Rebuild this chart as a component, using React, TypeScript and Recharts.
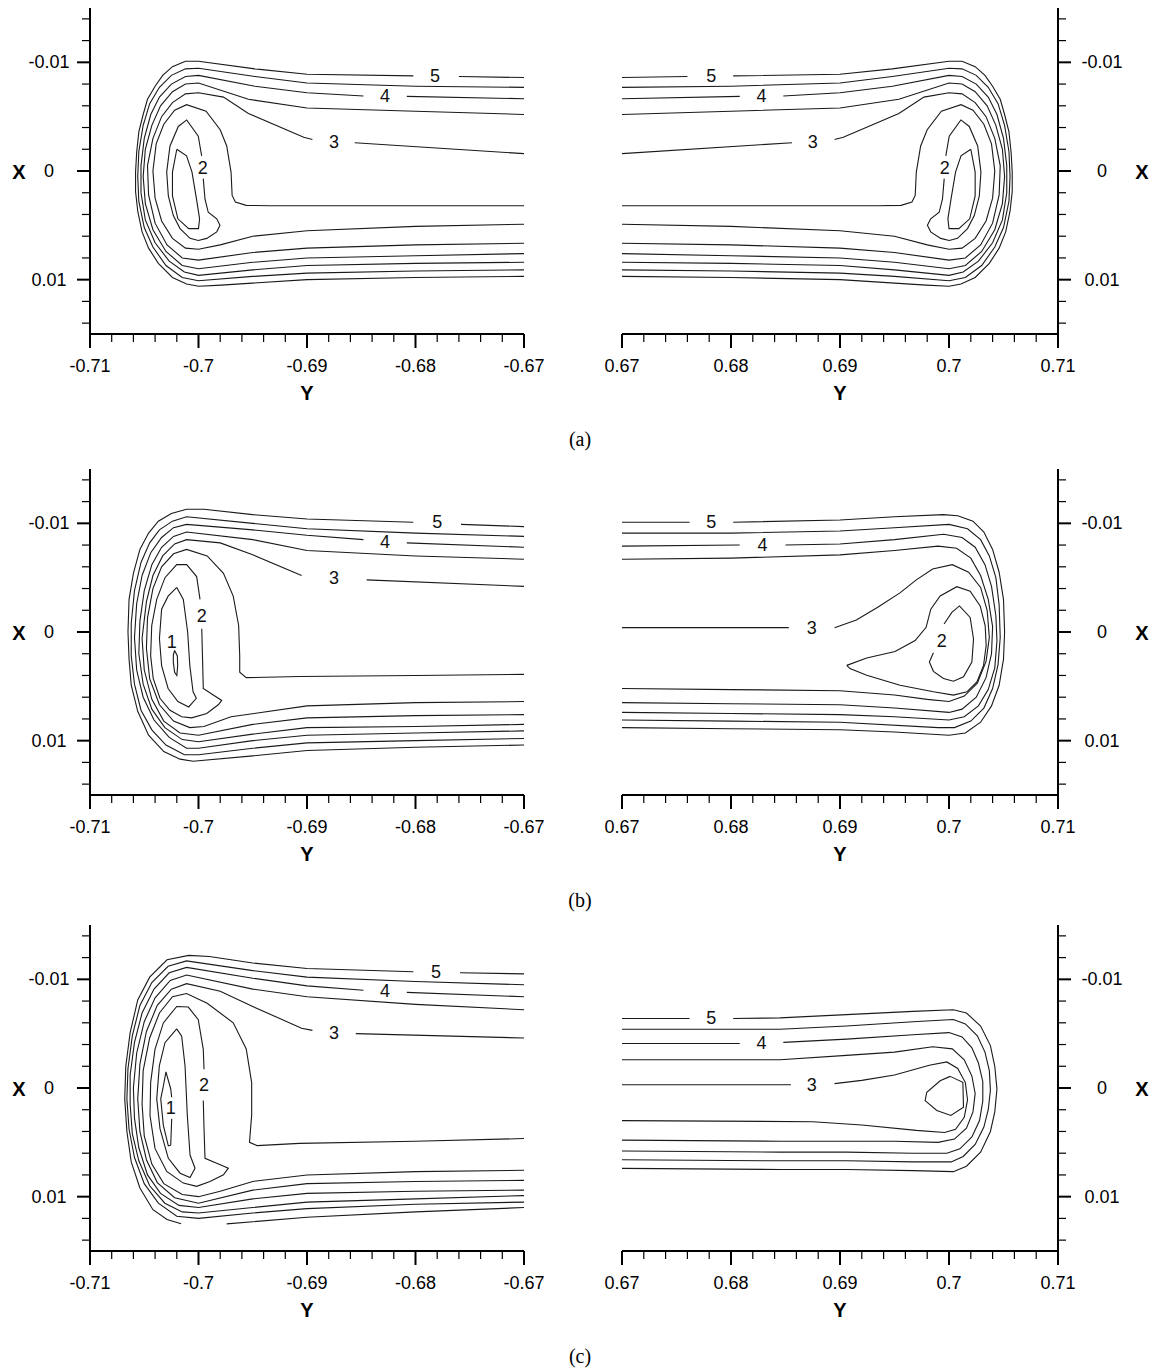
import React from 'react';
import { ScatterChart, Scatter, XAxis, YAxis } from 'recharts';

// each point is [Y, X]: Y runs along the bottom axis, X down the side axis
type Pt = [number, number];
type Lbl = { t: string; h: number; v: number };

// labelled ticks are the ones at whole hundredths, the rest are the 0.002 minor marks
const leftTicks = [-0.71, -0.708, -0.706, -0.704, -0.702, -0.7, -0.698, -0.696, -0.694, -0.692, -0.69, -0.688, -0.686, -0.684, -0.682, -0.68, -0.678, -0.676, -0.674, -0.672, -0.67];
const rightTicks = [0.67, 0.672, 0.674, 0.676, 0.678, 0.68, 0.682, 0.684, 0.686, 0.688, 0.69, 0.692, 0.694, 0.696, 0.698, 0.7, 0.702, 0.704, 0.706, 0.708, 0.71];
const xTicks = [-0.014, -0.012, -0.01, -0.008, -0.006, -0.004, -0.002, 0, 0.002, 0.004, 0.006, 0.008, 0.01, 0.012, 0.014];

// ---------- (a) ----------
const linesAL: Pt[][] = [
  [[-0.67, -0.0086], [-0.676, -0.00869]],
  [[-0.6802, -0.00875], [-0.69, -0.0089], [-0.6948, -0.0094], [-0.7, -0.0101], [-0.7012, -0.0101], [-0.7024, -0.0096], [-0.7033, -0.0088], [-0.704, -0.0078], [-0.7047, -0.0066], [-0.7051, -0.0052], [-0.7055, -0.0036], [-0.7057, -0.0017], [-0.7058, 0.0001], [-0.7058, 0.0019], [-0.7056, 0.0037], [-0.7052, 0.0056], [-0.7046, 0.0071], [-0.7037, 0.0085], [-0.7024, 0.0098], [-0.7011, 0.0104], [-0.7, 0.0106], [-0.6979, 0.0105], [-0.69, 0.01], [-0.68, 0.0098], [-0.67, 0.0097]],
  [[-0.67, -0.0077], [-0.68, -0.0078], [-0.69, -0.0081], [-0.6948, -0.0087], [-0.7, -0.00945], [-0.7012, -0.0094], [-0.7025, -0.0088], [-0.7036, -0.0077], [-0.7045, -0.0062], [-0.7051, -0.0042], [-0.7055, -0.0018], [-0.7056, 0.0005], [-0.7055, 0.0028], [-0.705, 0.0052], [-0.7042, 0.007], [-0.703, 0.0087], [-0.7015, 0.0098], [-0.7, 0.0101], [-0.695, 0.0097], [-0.69, 0.0094], [-0.68, 0.0092], [-0.67, 0.0091]],
  [[-0.67, -0.00665], [-0.6808, -0.00687]],
  [[-0.6848, -0.0069], [-0.69, -0.0072], [-0.6948, -0.0078], [-0.7, -0.0088], [-0.7012, -0.0087], [-0.7025, -0.008], [-0.7036, -0.0068], [-0.7044, -0.0052], [-0.705, -0.003], [-0.7053, -0.0005], [-0.7053, 0.002], [-0.7049, 0.0045], [-0.704, 0.0066], [-0.7027, 0.0083], [-0.7013, 0.0093], [-0.7, 0.0096], [-0.695, 0.0091], [-0.69, 0.0087], [-0.68, 0.0085], [-0.67, 0.0084]],
  [[-0.67, -0.0052], [-0.68, -0.0055], [-0.69, -0.0058], [-0.6954, -0.0066], [-0.7, -0.0081], [-0.7012, -0.008], [-0.7024, -0.0073], [-0.7035, -0.006], [-0.7043, -0.0042], [-0.7049, -0.002], [-0.7051, 0.0005], [-0.7049, 0.003], [-0.7042, 0.0054], [-0.703, 0.0074], [-0.7015, 0.0087], [-0.7, 0.009], [-0.695, 0.0084], [-0.69, 0.008], [-0.68, 0.0078], [-0.67, 0.0076]],
  [[-0.67, -0.0016], [-0.6856, -0.0026]],
  [[-0.6895, -0.0029], [-0.6903, -0.0031], [-0.6954, -0.0053], [-0.6977, -0.0068], [-0.7, -0.0072], [-0.7012, -0.0071], [-0.7024, -0.0063], [-0.7034, -0.005], [-0.7042, -0.003], [-0.7047, -0.0005], [-0.7046, 0.0022], [-0.704, 0.0048], [-0.7029, 0.0068], [-0.7015, 0.008], [-0.7, 0.0082], [-0.695, 0.0075], [-0.69, 0.0071], [-0.68, 0.0068], [-0.67, 0.00665]],
  [[-0.67, 0.0032], [-0.6934, 0.0032], [-0.6956, 0.00316], [-0.6966, 0.00285], [-0.6969, 0.00225], [-0.697, 0.0001], [-0.6974, -0.0023], [-0.698, -0.0038], [-0.6993, -0.0055], [-0.7011, -0.0061], [-0.7022, -0.0056], [-0.7032, -0.0043], [-0.7039, -0.0025], [-0.7042, 0], [-0.704, 0.0025], [-0.7034, 0.0046], [-0.7024, 0.0062], [-0.7012, 0.0071], [-0.7, 0.0072], [-0.698, 0.0068], [-0.695, 0.006], [-0.69, 0.0055], [-0.68, 0.0051], [-0.67, 0.0049]],
  [[-0.69971, -0.0014], [-0.70002, -0.0032], [-0.70109, -0.0047], [-0.70186, -0.0041], [-0.70263, -0.0023], [-0.70293, 0.0001], [-0.70278, 0.0023], [-0.70232, 0.0041], [-0.7017, 0.0053], [-0.70078, 0.0062], [-0.70002, 0.0064], [-0.69924, 0.0062], [-0.69832, 0.0056], [-0.69802, 0.005], [-0.69832, 0.0044], [-0.6991, 0.0038], [-0.6994, 0.0026], [-0.69956, 0.0007]],
  [[-0.702, -0.002], [-0.7011, -0.0014], [-0.7006, 0.0001], [-0.7002, 0.0025], [-0.6999, 0.0044], [-0.7, 0.0053], [-0.7009, 0.0053], [-0.7019, 0.0044], [-0.7024, 0.0023], [-0.7024, 0.0001], [-0.702, -0.002]],
];
const labelsAL: Lbl[] = [
  { t: '5', h: -0.6782, v: -0.00875 },
  { t: '4', h: -0.6828, v: -0.00687 },
  { t: '3', h: -0.6875, v: -0.0027 },
  { t: '2', h: -0.6996, v: -0.0003 },
];

const linesAR: Pt[][] = [
  [[0.67, -0.0086], [0.676, -0.00869]],
  [[0.6802, -0.00875], [0.69, -0.0089], [0.6948, -0.0094], [0.7, -0.0101], [0.7012, -0.0101], [0.7024, -0.0096], [0.7033, -0.0088], [0.704, -0.0078], [0.7047, -0.0066], [0.7051, -0.0052], [0.7055, -0.0036], [0.7057, -0.0017], [0.7058, 0.0001], [0.7058, 0.0019], [0.7056, 0.0037], [0.7052, 0.0056], [0.7046, 0.0071], [0.7037, 0.0085], [0.7024, 0.0098], [0.7011, 0.0104], [0.7, 0.0106], [0.6979, 0.0105], [0.69, 0.01], [0.68, 0.0098], [0.67, 0.0097]],
  [[0.67, -0.0077], [0.68, -0.0078], [0.69, -0.0081], [0.6948, -0.0087], [0.7, -0.00945], [0.7012, -0.0094], [0.7025, -0.0088], [0.7036, -0.0077], [0.7045, -0.0062], [0.7051, -0.0042], [0.7055, -0.0018], [0.7056, 0.0005], [0.7055, 0.0028], [0.705, 0.0052], [0.7042, 0.007], [0.703, 0.0087], [0.7015, 0.0098], [0.7, 0.0101], [0.695, 0.0097], [0.69, 0.0094], [0.68, 0.0092], [0.67, 0.0091]],
  [[0.67, -0.00665], [0.6808, -0.00687]],
  [[0.6848, -0.0069], [0.69, -0.0072], [0.6948, -0.0078], [0.7, -0.0088], [0.7012, -0.0087], [0.7025, -0.008], [0.7036, -0.0068], [0.7044, -0.0052], [0.705, -0.003], [0.7053, -0.0005], [0.7053, 0.002], [0.7049, 0.0045], [0.704, 0.0066], [0.7027, 0.0083], [0.7013, 0.0093], [0.7, 0.0096], [0.695, 0.0091], [0.69, 0.0087], [0.68, 0.0085], [0.67, 0.0084]],
  [[0.67, -0.0052], [0.68, -0.0055], [0.69, -0.0058], [0.6954, -0.0066], [0.7, -0.0081], [0.7012, -0.008], [0.7024, -0.0073], [0.7035, -0.006], [0.7043, -0.0042], [0.7049, -0.002], [0.7051, 0.0005], [0.7049, 0.003], [0.7042, 0.0054], [0.703, 0.0074], [0.7015, 0.0087], [0.7, 0.009], [0.695, 0.0084], [0.69, 0.008], [0.68, 0.0078], [0.67, 0.0076]],
  [[0.67, -0.0016], [0.6856, -0.0026]],
  [[0.6895, -0.0029], [0.6903, -0.0031], [0.6954, -0.0053], [0.6977, -0.0068], [0.7, -0.0072], [0.7012, -0.0071], [0.7024, -0.0063], [0.7034, -0.005], [0.7042, -0.003], [0.7047, -0.0005], [0.7046, 0.0022], [0.704, 0.0048], [0.7029, 0.0068], [0.7015, 0.008], [0.7, 0.0082], [0.695, 0.0075], [0.69, 0.0071], [0.68, 0.0068], [0.67, 0.00665]],
  [[0.67, 0.0032], [0.6934, 0.0032], [0.6956, 0.00316], [0.6966, 0.00285], [0.6969, 0.00225], [0.697, 0.0001], [0.6974, -0.0023], [0.698, -0.0038], [0.6993, -0.0055], [0.7011, -0.0061], [0.7022, -0.0056], [0.7032, -0.0043], [0.7039, -0.0025], [0.7042, 0], [0.704, 0.0025], [0.7034, 0.0046], [0.7024, 0.0062], [0.7012, 0.0071], [0.7, 0.0072], [0.698, 0.0068], [0.695, 0.006], [0.69, 0.0055], [0.68, 0.0051], [0.67, 0.0049]],
  [[0.69971, -0.0014], [0.70002, -0.0032], [0.70109, -0.0047], [0.70186, -0.0041], [0.70263, -0.0023], [0.70293, 0.0001], [0.70278, 0.0023], [0.70232, 0.0041], [0.7017, 0.0053], [0.70078, 0.0062], [0.70002, 0.0064], [0.69924, 0.0062], [0.69832, 0.0056], [0.69802, 0.005], [0.69832, 0.0044], [0.6991, 0.0038], [0.6994, 0.0026], [0.69956, 0.0007]],
  [[0.702, -0.002], [0.7011, -0.0014], [0.7006, 0.0001], [0.7002, 0.0025], [0.6999, 0.0044], [0.7, 0.0053], [0.7009, 0.0053], [0.7019, 0.0044], [0.7024, 0.0023], [0.7024, 0.0001], [0.702, -0.002]],
];
const labelsAR: Lbl[] = [
  { t: '5', h: 0.6782, v: -0.00875 },
  { t: '4', h: 0.6828, v: -0.00687 },
  { t: '3', h: 0.6875, v: -0.0027 },
  { t: '2', h: 0.6996, v: -0.0003 },
];

// ---------- (b) ----------
const linesBL: Pt[][] = [
  [[-0.67, -0.0097], [-0.6758, -0.0099]],
  [[-0.6802, -0.0101], [-0.69, -0.0104], [-0.695, -0.0108], [-0.6995, -0.0113], [-0.7011, -0.0113], [-0.7025, -0.0109], [-0.7037, -0.0102], [-0.7046, -0.0091], [-0.7054, -0.0076], [-0.706, -0.0054], [-0.7064, -0.003], [-0.7065, 0], [-0.7064, 0.0025], [-0.7062, 0.0049], [-0.7056, 0.0073], [-0.7046, 0.0095], [-0.7032, 0.011], [-0.7017, 0.0117], [-0.7005, 0.0119], [-0.695, 0.0114], [-0.69, 0.0109], [-0.68, 0.0106], [-0.67, 0.0104]],
  [[-0.67, -0.0088], [-0.68, -0.0091], [-0.69, -0.0095], [-0.695, -0.01], [-0.7011, -0.0106], [-0.7024, -0.0102], [-0.7036, -0.0094], [-0.7045, -0.0082], [-0.7053, -0.0064], [-0.7059, -0.0038], [-0.7062, -0.0008], [-0.7062, 0.0022], [-0.7059, 0.0048], [-0.7053, 0.0072], [-0.7043, 0.009], [-0.703, 0.0104], [-0.7013, 0.0113], [-0.7, 0.0113], [-0.695, 0.0107], [-0.69, 0.0102], [-0.68, 0.01], [-0.67, 0.0098]],
  [[-0.67, -0.0078], [-0.6808, -0.0082]],
  [[-0.6848, -0.0085], [-0.69, -0.0089], [-0.695, -0.0094], [-0.7011, -0.0099], [-0.7023, -0.0096], [-0.7034, -0.0087], [-0.7044, -0.0073], [-0.7052, -0.0052], [-0.7057, -0.0026], [-0.7059, 0.0005], [-0.7057, 0.0035], [-0.7051, 0.006], [-0.7041, 0.0081], [-0.7027, 0.0097], [-0.7011, 0.0107], [-0.7, 0.0107], [-0.695, 0.01], [-0.69, 0.0095], [-0.68, 0.0093], [-0.67, 0.0091]],
  [[-0.67, -0.0067], [-0.68, -0.007], [-0.69, -0.0075], [-0.695, -0.0085], [-0.7011, -0.0092], [-0.7023, -0.0088], [-0.7034, -0.0078], [-0.7043, -0.0062], [-0.705, -0.0038], [-0.7054, -0.001], [-0.7055, 0.002], [-0.7051, 0.0048], [-0.7043, 0.0071], [-0.7031, 0.0088], [-0.7015, 0.0099], [-0.7, 0.0101], [-0.695, 0.0094], [-0.69, 0.0088], [-0.68, 0.0087], [-0.67, 0.0085]],
  [[-0.67, -0.0042], [-0.6845, -0.0048]],
  [[-0.6905, -0.0052], [-0.695, -0.0071], [-0.698, -0.0082], [-0.7011, -0.0085], [-0.7022, -0.0081], [-0.7033, -0.007], [-0.7042, -0.0052], [-0.7048, -0.0028], [-0.7052, 0.0006], [-0.705, 0.0035], [-0.7043, 0.0062], [-0.7032, 0.0082], [-0.7017, 0.0093], [-0.7, 0.0095], [-0.695, 0.0085], [-0.69, 0.0079], [-0.68, 0.0077], [-0.67, 0.0076]],
  [[-0.67, 0.0039], [-0.68, 0.004], [-0.6907, 0.0041], [-0.6956, 0.0042], [-0.6962, 0.0037], [-0.6962, 0.0022], [-0.6963, -0.0006], [-0.6968, -0.0033], [-0.6977, -0.0054], [-0.6992, -0.007], [-0.7011, -0.0076], [-0.7023, -0.0072], [-0.7034, -0.006], [-0.7042, -0.004], [-0.7047, -0.0013], [-0.7048, 0.0015], [-0.7045, 0.0043], [-0.7036, 0.0067], [-0.7023, 0.0082], [-0.7008, 0.0088], [-0.6995, 0.0087], [-0.697, 0.0078], [-0.69, 0.0068], [-0.68, 0.0065], [-0.67, 0.0064]],
  [[-0.6997, -0.0003], [-0.69961, 0.0031], [-0.69956, 0.0052], [-0.69864, 0.0058], [-0.69786, 0.0063], [-0.69818, 0.0067], [-0.69924, 0.0075], [-0.70063, 0.0079], [-0.70155, 0.0078], [-0.70263, 0.0072], [-0.70355, 0.0061], [-0.70417, 0.0043], [-0.70441, 0.0022], [-0.70431, -0.0006], [-0.70385, -0.003], [-0.70309, -0.005], [-0.70201, -0.0062], [-0.70109, -0.0062], [-0.70017, -0.0051], [-0.69986, -0.003]],
  [[-0.702, -0.0041], [-0.7014, -0.003], [-0.701, 0], [-0.7008, 0.0031], [-0.7005, 0.0055], [-0.7002, 0.0061], [-0.7009, 0.0069], [-0.7019, 0.0064], [-0.7028, 0.0052], [-0.7034, 0.0031], [-0.7036, 0.0006], [-0.7034, -0.0021], [-0.7028, -0.0033], [-0.702, -0.0041]],
  [[-0.7022, 0.0017], [-0.70195, 0.0022], [-0.70192, 0.0031], [-0.702, 0.004], [-0.7022, 0.0037], [-0.70232, 0.0028], [-0.70232, 0.0021], [-0.7022, 0.0017]],
];
const labelsBL: Lbl[] = [
  { t: '5', h: -0.678, v: -0.0101 },
  { t: '4', h: -0.6828, v: -0.0083 },
  { t: '3', h: -0.6875, v: -0.005 },
  { t: '2', h: -0.6997, v: -0.0015 },
  { t: '1', h: -0.70247, v: 0.0009 },
];

const linesBR: Pt[][] = [
  [[0.67, -0.0101], [0.6762, -0.0101]],
  [[0.6802, -0.0101], [0.69, -0.0103], [0.695, -0.0106], [0.6995, -0.0108], [0.7008, -0.0107], [0.7022, -0.0102], [0.7032, -0.0092], [0.704, -0.0076], [0.7046, -0.0055], [0.705, -0.003], [0.7051, 0], [0.705, 0.0025], [0.7046, 0.0049], [0.7039, 0.0068], [0.7029, 0.0083], [0.7015, 0.0093], [0.7, 0.0095], [0.695, 0.0092], [0.69, 0.009], [0.68, 0.0089], [0.67, 0.0088]],
  [[0.67, -0.0091], [0.68, -0.0091], [0.69, -0.0093], [0.695, -0.0096], [0.7, -0.0099], [0.7017, -0.0095], [0.7029, -0.0085], [0.7037, -0.007], [0.7043, -0.005], [0.7046, -0.0025], [0.7047, 0.0005], [0.7045, 0.003], [0.704, 0.0052], [0.7032, 0.007], [0.702, 0.0082], [0.7005, 0.0088], [0.699, 0.0088], [0.69, 0.0083], [0.68, 0.0082], [0.67, 0.0081]],
  [[0.67, -0.0079], [0.6808, -0.008]],
  [[0.685, -0.008], [0.69, -0.0081], [0.695, -0.0085], [0.6995, -0.009], [0.7012, -0.0087], [0.7024, -0.0078], [0.7033, -0.0062], [0.7039, -0.0042], [0.7043, -0.0015], [0.7044, 0.0008], [0.7042, 0.0033], [0.7036, 0.0053], [0.7027, 0.0068], [0.7014, 0.0078], [0.7, 0.0081], [0.695, 0.0078], [0.69, 0.0076], [0.68, 0.0075], [0.67, 0.0074]],
  [[0.67, -0.0067], [0.68, -0.0068], [0.69, -0.0071], [0.695, -0.0075], [0.699, -0.0079], [0.7007, -0.0077], [0.702, -0.0068], [0.7029, -0.0052], [0.7036, -0.003], [0.704, -0.0005], [0.7039, 0.002], [0.7034, 0.0042], [0.7025, 0.006], [0.7012, 0.0071], [0.7, 0.0074], [0.695, 0.007], [0.69, 0.0067], [0.68, 0.0066], [0.67, 0.0065]],
  [[0.67, -0.0004], [0.6853, -0.0004]],
  [[0.6895, -0.0004], [0.6915, -0.0011], [0.6935, -0.0023], [0.6955, -0.0036], [0.697, -0.0048], [0.6985, -0.0058], [0.7003, -0.0062], [0.7018, -0.0055], [0.7029, -0.0041], [0.7035, -0.002], [0.7037, 0.0005], [0.7034, 0.0027], [0.7026, 0.0047], [0.7014, 0.0059], [0.7, 0.0064], [0.698, 0.0062], [0.695, 0.0058], [0.69, 0.0054], [0.68, 0.0053], [0.67, 0.0052]],
  [[0.69062, 0.00307], [0.69245, 0.0024], [0.69505, 0.0018], [0.69689, 0.00079], [0.6979, -0.00043], [0.69833, -0.0021], [0.69919, -0.00331], [0.70072, -0.00417], [0.70194, -0.00376], [0.70286, -0.0024], [0.70332, -0.00057], [0.70341, 0.00125], [0.70317, 0.00307], [0.70256, 0.00459], [0.70164, 0.0055], [0.70041, 0.00581], [0.69857, 0.0055], [0.69551, 0.0049], [0.69245, 0.00398], [0.69092, 0.00337], [0.69062, 0.00307]],
  [[0.69955, -0.00073], [0.70026, -0.0018], [0.70096, -0.0024], [0.70194, -0.00134], [0.70225, 0.00064], [0.7021, 0.00276], [0.70133, 0.00413], [0.70041, 0.00453], [0.69949, 0.00428], [0.69857, 0.00362], [0.6982, 0.00276], [0.69857, 0.00191]],
];
const labelsBR: Lbl[] = [
  { t: '5', h: 0.6782, v: -0.0101 },
  { t: '4', h: 0.6829, v: -0.008 },
  { t: '3', h: 0.6874, v: -0.0004 },
  { t: '2', h: 0.69934, v: 0.0008 },
];

// ---------- (c) ----------
const linesCL: Pt[][] = [
  [[-0.67, -0.0105], [-0.6759, -0.0106]],
  [[-0.6802, -0.0107], [-0.69, -0.011], [-0.695, -0.0115], [-0.699, -0.0121], [-0.7009, -0.0122], [-0.7029, -0.0118], [-0.7045, -0.0102], [-0.7056, -0.0081], [-0.7063, -0.0051], [-0.7067, -0.002], [-0.7068, 0.001], [-0.7066, 0.004], [-0.7062, 0.0068], [-0.7054, 0.0092], [-0.7042, 0.0112], [-0.7029, 0.0121], [-0.7016, 0.0125]],
  [[-0.6974, 0.0125], [-0.69, 0.0119], [-0.68, 0.0114], [-0.67, 0.011]],
  [[-0.67, -0.0095], [-0.68, -0.0098], [-0.69, -0.0102], [-0.695, -0.0108], [-0.7011, -0.0117], [-0.7028, -0.0112], [-0.7043, -0.0097], [-0.7054, -0.0076], [-0.7061, -0.0048], [-0.7065, -0.0018], [-0.7066, 0.001], [-0.7064, 0.0038], [-0.7059, 0.0064], [-0.705, 0.0088], [-0.7037, 0.0106], [-0.702, 0.0118], [-0.7, 0.012], [-0.695, 0.0115], [-0.69, 0.0111], [-0.68, 0.0107], [-0.67, 0.0105]],
  [[-0.67, -0.0084], [-0.6808, -0.0088]],
  [[-0.6848, -0.009], [-0.69, -0.0094], [-0.695, -0.0101], [-0.7011, -0.0111], [-0.7027, -0.0106], [-0.7041, -0.0091], [-0.7052, -0.0069], [-0.7059, -0.0042], [-0.7063, -0.0012], [-0.7063, 0.0015], [-0.7061, 0.0042], [-0.7055, 0.0067], [-0.7045, 0.009], [-0.7031, 0.0106], [-0.7015, 0.0114], [-0.7, 0.0115], [-0.695, 0.011], [-0.69, 0.0105], [-0.68, 0.0102], [-0.67, 0.0099]],
  [[-0.67, -0.0072], [-0.68, -0.0077], [-0.69, -0.0084], [-0.695, -0.0091], [-0.7011, -0.0104], [-0.7026, -0.0099], [-0.704, -0.0083], [-0.705, -0.0061], [-0.7057, -0.0032], [-0.706, 0], [-0.7059, 0.0028], [-0.7055, 0.0055], [-0.7047, 0.008], [-0.7035, 0.0097], [-0.7018, 0.0108], [-0.7, 0.011], [-0.695, 0.0102], [-0.69, 0.0097], [-0.68, 0.0095], [-0.67, 0.0094]],
  [[-0.67, -0.0046], [-0.6855, -0.005]],
  [[-0.6895, -0.0053], [-0.6905, -0.0055], [-0.695, -0.0075], [-0.698, -0.0089], [-0.7011, -0.0096], [-0.7025, -0.0091], [-0.7038, -0.0076], [-0.7048, -0.0052], [-0.7054, -0.0022], [-0.7056, 0.001], [-0.7054, 0.004], [-0.7048, 0.0066], [-0.7038, 0.0087], [-0.7022, 0.0101], [-0.7, 0.0106], [-0.695, 0.0094], [-0.69, 0.0088], [-0.68, 0.0086], [-0.67, 0.0085]],
  [[-0.67, 0.00465], [-0.68, 0.0049], [-0.6907, 0.0051], [-0.6946, 0.0053], [-0.6953, 0.005], [-0.6951, 0.0025], [-0.6951, -0.0005], [-0.6956, -0.0036], [-0.6968, -0.006], [-0.6992, -0.0078], [-0.7011, -0.0087], [-0.7024, -0.0084], [-0.7036, -0.0069], [-0.7045, -0.0046], [-0.7051, -0.0016], [-0.7052, 0.0015], [-0.705, 0.0044], [-0.7043, 0.007], [-0.7032, 0.0088], [-0.7015, 0.0098], [-0.7, 0.01], [-0.698, 0.0095], [-0.695, 0.0086], [-0.69, 0.008], [-0.68, 0.0077], [-0.67, 0.00757]],
  [[-0.69956, 0.00116], [-0.69949, 0.00374], [-0.6994, 0.00647], [-0.69832, 0.00693], [-0.69725, 0.00738], [-0.6977, 0.00799], [-0.69894, 0.0086], [-0.70017, 0.00905], [-0.7014, 0.00875], [-0.70293, 0.00768], [-0.70401, 0.00556], [-0.70447, 0.00253], [-0.70441, -0.00052], [-0.70401, -0.00356], [-0.70324, -0.00599], [-0.70201, -0.0075], [-0.70094, -0.00745], [-0.70002, -0.00629], [-0.69956, -0.00356], [-0.69949, -0.00173]],
  [[-0.70201, -0.00544], [-0.70155, -0.00477], [-0.70124, -0.00203], [-0.70103, 0.00253], [-0.70078, 0.00617], [-0.70032, 0.00738], [-0.70078, 0.00823], [-0.7017, 0.00784], [-0.70278, 0.00647], [-0.70355, 0.00374], [-0.70385, 0.001], [-0.70361, -0.00203], [-0.70309, -0.00417], [-0.70201, -0.00544]],
  [[-0.70247, 0.00283], [-0.70256, 0.00526], [-0.70278, 0.00532], [-0.70324, 0.00344], [-0.70348, 0.001], [-0.70329, 0.00009], [-0.703, -0.00149], [-0.70256, 0.00009], [-0.70247, 0.00085]],
];
const labelsCL: Lbl[] = [
  { t: '5', h: -0.6781, v: -0.0107 },
  { t: '4', h: -0.6828, v: -0.0089 },
  { t: '3', h: -0.6875, v: -0.0051 },
  { t: '2', h: -0.6995, v: -0.0003 },
  { t: '1', h: -0.70256, v: 0.00185 },
];

const linesCR: Pt[][] = [
  [[0.67, -0.0064], [0.6762, -0.0064]],
  [[0.6802, -0.0064], [0.6845, -0.00645], [0.6906, -0.00675], [0.6967, -0.00705], [0.7004, -0.0072], [0.7016, -0.0069], [0.7029, -0.0057], [0.7038, -0.0039], [0.7042, -0.002], [0.7044, 0.0001], [0.7042, 0.0022], [0.7038, 0.004], [0.7029, 0.0059], [0.7016, 0.0072], [0.7004, 0.0077], [0.6967, 0.0076], [0.6906, 0.0075], [0.6845, 0.0075], [0.67, 0.0074]],
  [[0.67, -0.0054], [0.6845, -0.0054], [0.6906, -0.0057], [0.6967, -0.0061], [0.7004, -0.0063], [0.7015, -0.0059], [0.7026, -0.0048], [0.7033, -0.0033], [0.7037, -0.0016], [0.7038, 0.0002], [0.7036, 0.002], [0.7032, 0.0036], [0.7024, 0.0052], [0.7013, 0.0063], [0.7002, 0.0068], [0.6967, 0.0068], [0.6906, 0.0067], [0.6845, 0.0067], [0.67, 0.0066]],
  [[0.67, -0.0041], [0.6808, -0.0041]],
  [[0.6848, -0.0042], [0.6906, -0.0045], [0.6967, -0.0049], [0.7, -0.0051], [0.7012, -0.0047], [0.7021, -0.0037], [0.7027, -0.0023], [0.7031, -0.0006], [0.7031, 0.0012], [0.7028, 0.003], [0.7021, 0.0045], [0.701, 0.0056], [0.6998, 0.006], [0.6967, 0.006], [0.6906, 0.0059], [0.6845, 0.0059], [0.67, 0.0058]],
  [[0.67, -0.0026], [0.6845, -0.0026], [0.6906, -0.003], [0.695, -0.0033], [0.6985, -0.0038], [0.7003, -0.0036], [0.7014, -0.0026], [0.7021, -0.0011], [0.7024, 0.0005], [0.7022, 0.0022], [0.7016, 0.0037], [0.7005, 0.0047], [0.699, 0.005], [0.695, 0.0049], [0.6906, 0.0049], [0.6845, 0.0049], [0.67, 0.0048]],
  [[0.67, -0.0003], [0.6855, -0.0003]],
  [[0.6895, -0.0004], [0.692, -0.0007], [0.695, -0.0012], [0.6982, -0.0021], [0.6998, -0.0024], [0.7008, -0.0018], [0.7015, -0.0005], [0.7017, 0.0011], [0.7014, 0.0027], [0.7006, 0.0038], [0.6996, 0.0041], [0.697, 0.0039], [0.692, 0.0034], [0.6875, 0.0031], [0.67, 0.003]],
  [[0.70011, -0.00107], [0.70127, -0.00052], [0.70133, 0.00176], [0.70017, 0.00253], [0.69888, 0.00207], [0.69781, 0.00116], [0.69796, 0.00039], [0.69919, -0.00067], [0.70011, -0.00107]],
];
const labelsCR: Lbl[] = [
  { t: '5', h: 0.6782, v: -0.0064 },
  { t: '4', h: 0.6828, v: -0.0041 },
  { t: '3', h: 0.6874, v: -0.0003 },
];

const sans = '"Liberation Sans", Arial, sans-serif';
const isMajor = (v: number) => Math.abs(v * 100 - Math.round(v * 100)) < 1e-6;

function BottomTick(props: any) {
  const { x, y, payload } = props;
  const m = isMajor(payload.value);
  return (
    <g>
      <line x1={x} y1={y} x2={x} y2={y + (m ? 14 : 8)} stroke="#000" strokeWidth={m ? 2 : 1.2} />
      {m && (
        <text x={x} y={y + 38} textAnchor="middle" fontSize={18} fontFamily={sans} fill="#000">
          {String(payload.value)}
        </text>
      )}
    </g>
  );
}

function LeftTick(props: any) {
  const { x, y, payload } = props;
  const m = isMajor(payload.value);
  return (
    <g>
      <line x1={x} y1={y} x2={x - (m ? 13 : 8)} y2={y} stroke="#000" strokeWidth={m ? 2 : 1.2} />
      {m && (
        <text x={x - 41} y={y + 6} textAnchor="middle" fontSize={18} fontFamily={sans} fill="#000">
          {String(payload.value)}
        </text>
      )}
    </g>
  );
}

function RightTick(props: any) {
  const { x, y, payload } = props;
  const m = isMajor(payload.value);
  return (
    <g>
      <line x1={x} y1={y} x2={x + (m ? 13 : 8)} y2={y} stroke="#000" strokeWidth={m ? 2 : 1.2} />
      {m && (
        <text x={x + 44} y={y + 6} textAnchor="middle" fontSize={18} fontFamily={sans} fill="#000">
          {String(payload.value)}
        </text>
      )}
    </g>
  );
}

const NoDot = () => <g />;

function LabelMark(props: any) {
  const { cx, cy, payload } = props;
  return (
    <text x={cx} y={cy + 6} textAnchor="middle" fontSize={18} fontFamily={sans} fill="#111">
      {payload.t}
    </text>
  );
}

function Half({ side, top, lines, labels }: { side: 'L' | 'R'; top: number; lines: Pt[][]; labels: Lbl[] }) {
  const isLeft = side === 'L';
  const w = isLeft ? 560 : 600;
  return (
    <div style={{ position: 'absolute', left: isLeft ? 0 : 560, top, width: w, height: 400 }}>
      <ScatterChart
        width={w}
        height={400}
        margin={isLeft ? { top: 8, right: 36, bottom: 0, left: 30 } : { top: 8, right: 42, bottom: 0, left: 62 }}
      >
        <XAxis
          type="number"
          dataKey="h"
          domain={isLeft ? [-0.71, -0.67] : [0.67, 0.71]}
          ticks={isLeft ? leftTicks : rightTicks}
          interval={0}
          tickSize={0}
          tickMargin={0}
          height={66}
          tickLine={false}
          axisLine={{ stroke: '#000', strokeWidth: 2 }}
          tick={BottomTick}
          allowDataOverflow
        />
        <YAxis
          type="number"
          dataKey="v"
          orientation={isLeft ? 'left' : 'right'}
          reversed
          domain={[-0.015, 0.015]}
          ticks={xTicks}
          interval={0}
          tickSize={0}
          tickMargin={0}
          width={60}
          tickLine={false}
          axisLine={{ stroke: '#000', strokeWidth: 2 }}
          tick={isLeft ? LeftTick : RightTick}
          allowDataOverflow
        />
        {lines.map((pts, i) => (
          <Scatter
            key={i}
            data={pts.map(([h, v]) => ({ h, v }))}
            line={{ stroke: '#1a1a1a', strokeWidth: 1.1 }}
            lineType="joint"
            shape={NoDot}
            isAnimationActive={false}
          />
        ))}
        <Scatter data={labels} shape={LabelMark} isAnimationActive={false} />
      </ScatterChart>
    </div>
  );
}

const panels = [
  { tag: '(a)', top: 0, L: linesAL, LL: labelsAL, R: linesAR, RL: labelsAR },
  { tag: '(b)', top: 461, L: linesBL, LL: labelsBL, R: linesBR, RL: labelsBR },
  { tag: '(c)', top: 917, L: linesCL, LL: labelsCL, R: linesCR, RL: labelsCR },
];

export default function App() {
  return (
    <div style={{ position: 'absolute', left: 0, top: 0, width: 1160, height: 1369, background: '#fff', overflow: 'hidden' }}>
      {panels.map((p) => (
        <React.Fragment key={p.tag}>
          <Half side="L" top={p.top} lines={p.L} labels={p.LL} />
          <Half side="R" top={p.top} lines={p.R} labels={p.RL} />
        </React.Fragment>
      ))}
      <svg width={1160} height={1369} style={{ position: 'absolute', left: 0, top: 0, pointerEvents: 'none' }}>
        {panels.map((p) => (
          <g key={p.tag}>
            <text x={19} y={p.top + 179} textAnchor="middle" fontSize={20} fontWeight="bold" fontFamily={sans}>X</text>
            <text x={1142} y={p.top + 179} textAnchor="middle" fontSize={20} fontWeight="bold" fontFamily={sans}>X</text>
            <text x={307} y={p.top + 400} textAnchor="middle" fontSize={20} fontWeight="bold" fontFamily={sans}>Y</text>
            <text x={840} y={p.top + 400} textAnchor="middle" fontSize={20} fontWeight="bold" fontFamily={sans}>Y</text>
            <text x={580} y={p.top + 446} textAnchor="middle" fontSize={20} fontFamily={'"Liberation Serif", "Times New Roman", serif'}>{p.tag}</text>
          </g>
        ))}
      </svg>
    </div>
  );
}
